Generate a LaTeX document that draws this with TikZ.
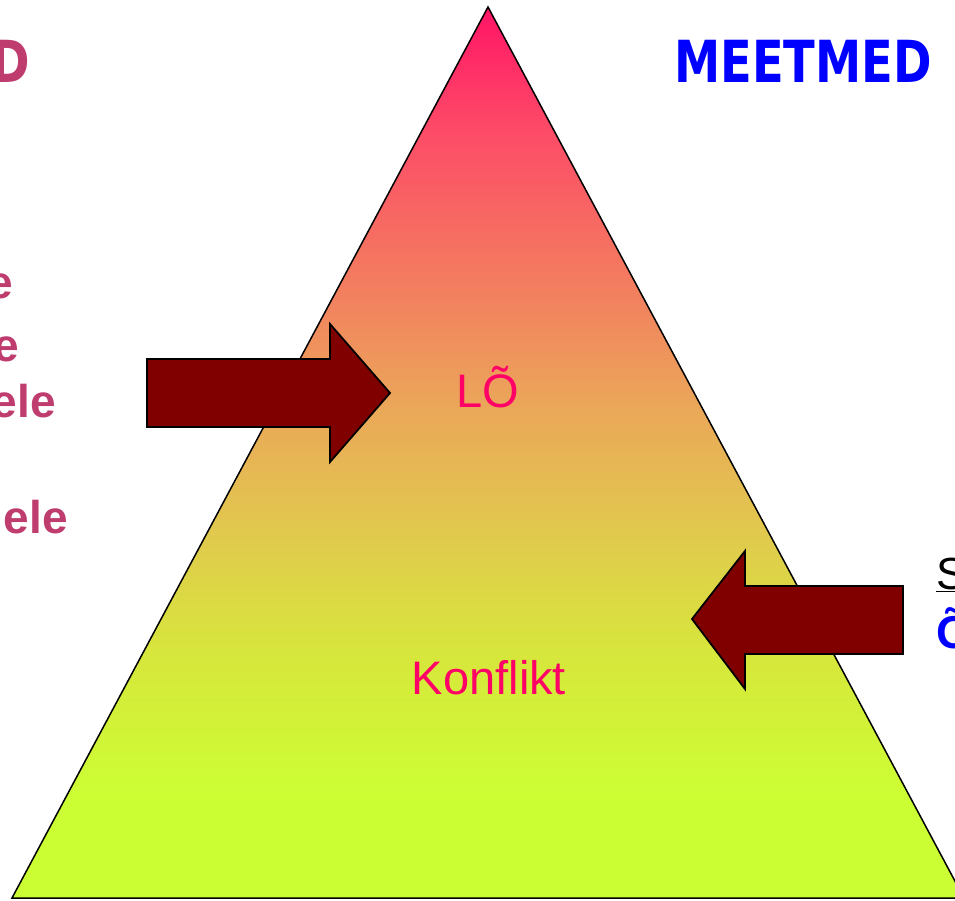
\documentclass[tikz,border=0pt]{standalone}
\usepackage{fontspec}
\setmainfont{Liberation Sans}
\newfontfamily\headfont[FakeStretch=0.8]{DejaVu Sans Bold}
\usetikzlibrary{positioning}

\definecolor{pyrpink}{RGB}{255,20,102}
\definecolor{pyrrose}{RGB}{253,75,103}
\definecolor{pyrsalmon}{RGB}{242,130,95}
\definecolor{pyrorange}{RGB}{235,165,90}
\definecolor{pyrochre}{RGB}{225,200,78}
\definecolor{pyrolive}{RGB}{215,230,60}
\definecolor{pyrlime}{RGB}{204,255,51}
\definecolor{arrowred}{RGB}{128,0,0}
\definecolor{leftrose}{RGB}{190,60,110}
\definecolor{labelpink}{RGB}{255,0,102}

\pgfdeclareverticalshading{pyramid}{100bp}{%
  color(0bp)=(pyrlime); color(25bp)=(pyrlime); color(30.5bp)=(pyrlime);
  color(38.9bp)=(pyrolive); color(45.7bp)=(pyrochre); color(52.9bp)=(pyrorange);
  color(58.6bp)=(pyrsalmon); color(68.1bp)=(pyrrose); color(75bp)=(pyrpink);
  color(100bp)=(pyrpink)}

\tikzset{
  blockarrow/.style={draw=black, line width=1.8pt, fill=arrowred, line join=miter},
  sidetext/.style={font=\fontsize{46}{50}\selectfont\bfseries, text=leftrose, inner sep=0pt},
  levellabel/.style={font=\fontsize{47}{50}\selectfont, text=labelpink, inner sep=0pt}
}

\begin{document}
\begin{tikzpicture}[x=1pt, y=-1pt]

\useasboundingbox (0,0) rectangle (955,900);
\clip (0,0) rectangle (955,900);

\coordinate (apex) at (488,7);
\coordinate (baseleft) at (12,898);
\coordinate (baseright) at (964,898);

\draw[line width=1.5pt, shading=pyramid]
  (apex) -- (baseright) -- (baseleft) -- cycle;

\node[levellabel, anchor=base] (lo) at (488,407) {LÕ};
\node[levellabel, anchor=base] (konflikt) at (489,694) {Konflikt};

\draw[blockarrow]
  (147,359) -- (330,359) -- (330,324) -- (390,393)
  -- (330,462) -- (330,427) -- (147,427) -- cycle;

\draw[blockarrow]
  (903,586) -- (745,586) -- (745,551) -- (692,619)
  -- (745,689) -- (745,654) -- (903,654) -- cycle;

\node[font=\fontsize{58}{60}\selectfont\headfont, text=blue, inner sep=0pt, anchor=base]
  (meetmed) at (803,82) {MEETMED};
\node[font=\fontsize{58}{60}\selectfont\headfont, text=leftrose, inner sep=0pt, anchor=base east]
  (lefthead) at (30,82) {D};

\node[sidetext, anchor=base east] (lineone) at (13,298) {e};
\node[sidetext, anchor=base east] (linetwo) at (19,361) {e};
\node[sidetext, anchor=base east] (linethree) at (56,417) {ele};
\node[sidetext, anchor=base east] (linefour) at (68,533) {ele};

\node[font=\fontsize{45}{50}\selectfont, inner sep=0pt, anchor=base west]
  (rightone) at (936,589) {\underline{S}};
\node[font=\fontsize{46}{50}\selectfont\bfseries, text=blue, inner sep=0pt, anchor=base west]
  (righttwo) at (936,648) {Õ};

\end{tikzpicture}
\end{document}
